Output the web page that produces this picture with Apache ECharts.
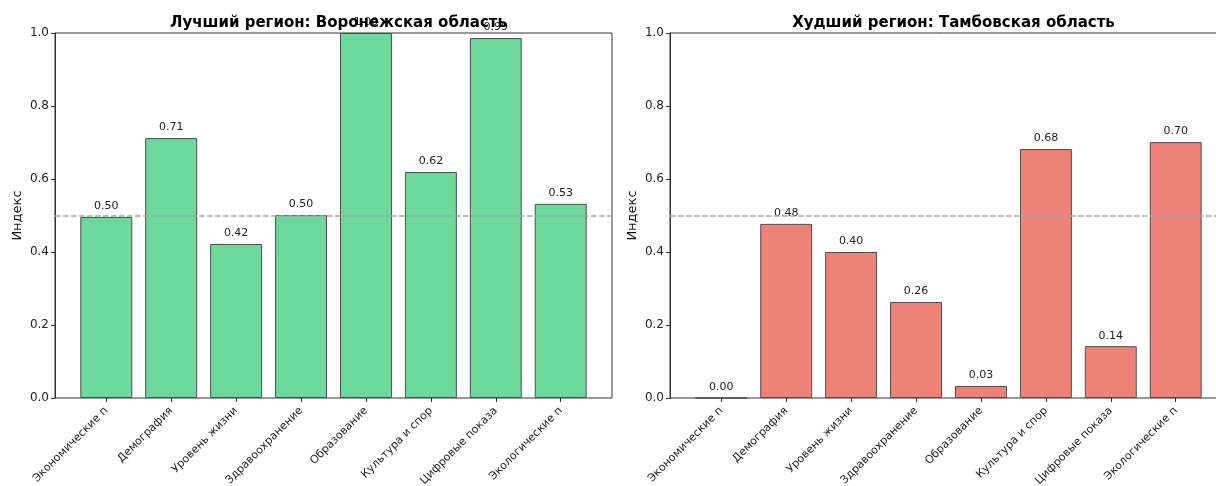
<!DOCTYPE html>
<html>
<head>
<meta charset="utf-8">
<script src="https://cdn.jsdelivr.net/npm/echarts@6/dist/echarts.min.js"></script>
<style>
html,body{margin:0;padding:0;background:#fff;}
#chart{width:1216px;height:486px;}
</style>
</head>
<body>
<div id="chart"></div>
<script>
const categories = ["Экономические п","Демография","Уровень жизни","Здравоохранение","Образование","Культура и спор","Цифровые показа","Экологические п"];
const bestValues = [0.496, 0.712, 0.422, 0.501, 1.0, 0.619, 0.986, 0.532];
const worstValues = [0.0, 0.477, 0.400, 0.263, 0.033, 0.682, 0.142, 0.701];
const bestTitle = "Лучший регион: Воронежская область";
const worstTitle = "Худший регион: Тамбовская область";
const yTicks = [0, 0.2, 0.4, 0.6, 0.8, 1.0];
const refValue = 0.5;
const yName = "Индекс";

(function () {
const FONT = "DejaVu Sans";
const chart = echarts.init(document.getElementById('chart'), null, {renderer: 'canvas'});

const gTop = 33, gHeight = 365, frameW = 557;
const unit = frameW / 8.58;
const innerW = unit * 8;
const innerOff = unit * 0.29;
const frames = [55, 670];

const grids = [], xAxes = [], yAxes = [], series = [], titles = [];
const datasets = [bestValues, worstValues];
const colors = ['#6dd99b', '#ee8276'];
const titleTexts = [bestTitle, worstTitle];

frames.forEach((L, i) => {
  grids.push({left: L, top: gTop, width: frameW, height: gHeight, show: true, borderColor: '#333', borderWidth: 1, backgroundColor: 'transparent', containLabel: false, outerBoundsMode: 'none'});
  grids.push({left: L + innerOff, top: gTop, width: innerW, height: gHeight, show: false, containLabel: false, outerBoundsMode: 'none'});
  const g0 = i * 2, g1 = i * 2 + 1;
  xAxes.push({gridIndex: g0, type: 'value', min: 0, max: 1, show: false});
  yAxes.push({
    gridIndex: g0, type: 'value', min: yTicks[0], max: yTicks[yTicks.length - 1], interval: 0.2,
    name: yName, nameLocation: 'middle', nameGap: 31,
    nameTextStyle: {fontFamily: FONT, fontSize: 13, color: '#111'},
    axisLine: {show: true, lineStyle: {color: '#333'}},
    axisTick: {show: true, length: 4, lineStyle: {color: '#333'}},
    axisLabel: {fontFamily: FONT, fontSize: 12, color: '#222', margin: 6, formatter: v => v.toFixed(1)},
    splitLine: {show: false}
  });
  xAxes.push({
    gridIndex: g1, type: 'category', data: categories, boundaryGap: true,
    axisLine: {show: false},
    axisTick: {show: true, alignWithLabel: true, length: 4, lineStyle: {color: '#333'}},
    axisLabel: {fontFamily: FONT, fontSize: 11, color: '#222', rotate: 45, margin: 11, interval: 0}
  });
  yAxes.push({gridIndex: g1, type: 'value', min: 0, max: 1, show: false});
  series.push({
    type: 'bar', xAxisIndex: g1, yAxisIndex: g1,
    data: datasets[i], barWidth: '80%',
    itemStyle: {color: colors[i], borderColor: '#4d4d4d', borderWidth: 1},
    label: {show: true, position: 'top', distance: 5, fontFamily: FONT, fontSize: 11, color: '#222', formatter: p => p.value.toFixed(2)},
    z: 2
  });
  series.push({
    type: 'line', xAxisIndex: g0, yAxisIndex: g0, data: [], z: 10,
    markLine: {
      silent: true, symbol: 'none', z: 10,
      label: {show: false},
      lineStyle: {color: '#a6a6a6', type: [5.5, 2.5], width: 1.5},
      data: [{yAxis: refValue}]
    }
  });
  titles.push({
    text: titleTexts[i], left: L + frameW / 2, top: 11, textAlign: 'center',
    textStyle: {fontFamily: FONT, fontSize: 15, fontWeight: 'bold', color: '#000'}
  });
});

chart.setOption({
  animation: false,
  backgroundColor: '#fff',
  title: titles,
  grid: grids,
  xAxis: xAxes,
  yAxis: yAxes,
  series: series
});
})();
</script>
</body>
</html>
